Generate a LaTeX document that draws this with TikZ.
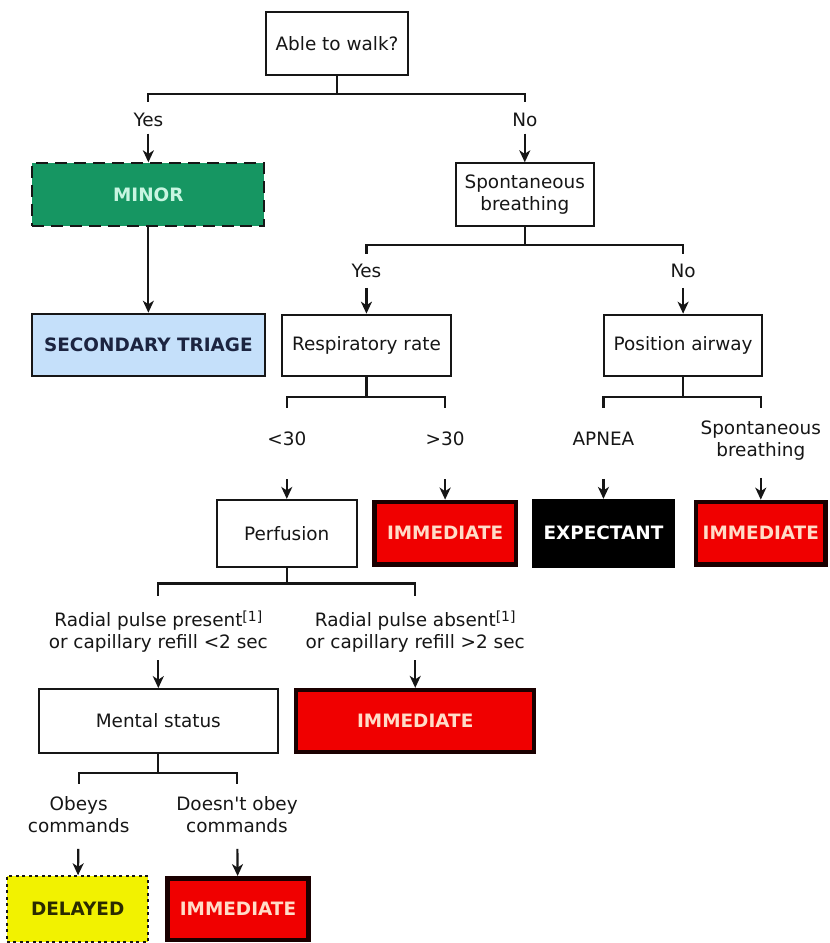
\documentclass[tikz,border=0pt]{standalone}
\usepackage{fontspec}
\setmainfont{DejaVu Sans}
\usetikzlibrary{arrows.meta}
\definecolor{ink}{HTML}{161616}
\definecolor{minorgreen}{HTML}{169662}
\definecolor{minortext}{HTML}{C8F5E1}
\definecolor{triageblue}{HTML}{C5E0FA}
\definecolor{triageink}{HTML}{1C2440}
\definecolor{immred}{HTML}{F00000}
\definecolor{immrim}{HTML}{1A0000}
\definecolor{immtext}{HTML}{FFDCC8}
\definecolor{delayyellow}{HTML}{F2F200}
\definecolor{delayink}{HTML}{2B2B00}
\newcommand{\note}[1]{\raisebox{5pt}{\fontsize{14}{14}\selectfont[#1]}}

\begin{document}
\begin{tikzpicture}[x=1pt,y=-1pt,
  every node/.style={font=\fontsize{18.5}{22}\selectfont, text=ink},
  box/.style={draw=ink, line width=2pt, fill=white, inner sep=0pt, align=center},
  tag/.style={box, font=\fontsize{18.5}{22}\selectfont\bfseries},
  immbox/.style={tag, fill=immred, draw=immrim, line width=4.5pt, text=immtext},
  lbl/.style={inner sep=0pt, align=center},
  link/.style={line width=2.2pt, draw=ink},
  arr/.style={link, -{Stealth[length=12pt,width=11pt,inset=3.5pt]}}]
\fill[white] (0,0) rectangle (833,943);

% first question
\node[box, minimum width=143pt, minimum height=63pt] (walk) at (338.5,43.5) {Able to walk?};
\node[lbl] (yes1) at (149,120) {Yes};
\node[lbl] (no1) at (527,120) {No};
\node[tag, fill=minorgreen, text=minortext, dash pattern=on 12pt off 7pt,
  minimum width=233pt, minimum height=63pt] (minor) at (149,195.5) {MINOR};
\node[tag, fill=triageblue, text=triageink, minimum width=234pt, minimum height=63pt] (second) at (149,346.5) {SECONDARY TRIAGE};
\node[box, minimum width=139pt, minimum height=63pt] (spont) at (527,195.5) {Spontaneous\\breathing};

% breathing
\node[lbl] (yes2) at (368,272) {Yes};
\node[lbl] (no2) at (686,272) {No};
\node[box, minimum width=169pt, minimum height=62pt] (resp) at (368,347) {Respiratory rate};
\node[box, minimum width=158pt, minimum height=62pt] (airway) at (686,347) {Position airway};
\node[lbl] (lt30) at (288,441) {<30};
\node[lbl] (gt30) at (447,441) {>30};
\node[lbl] (apnea) at (606,441) {APNEA};
\node[lbl] (sbreath) at (764,442) {Spontaneous\\breathing};
\node[box, minimum width=141pt, minimum height=67pt] (perf) at (288,535.5) {Perfusion};
\node[immbox, minimum width=142pt, minimum height=63pt] (imm1) at (447,535.5) {IMMEDIATE};
\node[tag, fill=black, text=white, draw=black, minimum width=142pt, minimum height=67pt] (expect) at (606,535.5) {EXPECTANT};
\node[immbox, minimum width=130pt, minimum height=63pt] (imm2) at (764,535.5) {IMMEDIATE};

% perfusion and mental status
\node[lbl] (present) at (159,634) {Radial pulse present\note{1}\\or capillary refill <2 sec};
\node[lbl] (absent) at (417,634) {Radial pulse absent\note{1}\\or capillary refill >2 sec};
\node[box, minimum width=240pt, minimum height=64pt] (mental) at (159,724) {Mental status};
\node[immbox, minimum width=239pt, minimum height=62pt] (imm3) at (417,724) {IMMEDIATE};
\node[lbl] (obeys) at (79,818) {Obeys\\commands};
\node[lbl] (disobey) at (238,818) {Doesn\textquotesingle t obey\\commands};
\node[tag, fill=delayyellow, text=delayink, dash pattern=on 3pt off 3.5pt,
  minimum width=142pt, minimum height=66pt] (delayed) at (78,913) {DELAYED};
\node[immbox, minimum width=142pt, minimum height=62pt] (imm4) at (239,913) {IMMEDIATE};

% branches
\draw[link, shorten >=10pt] (walk.south) -- ++(0,18) -| (yes1.north);
\draw[link, shorten >=10pt] (walk.south) -- ++(0,18) -| (no1.north);
\draw[link, shorten >=10pt] (spont.south) -- ++(0,18) -| (yes2.north);
\draw[link, shorten >=10pt] (spont.south) -- ++(0,18) -| (no2.north);
\draw[link, shorten >=24pt] (resp.south) -- ++(0,20) -| (lt30.north);
\draw[link, shorten >=24pt] (resp.south) -- ++(0,20) -| (gt30.north);
\draw[link, shorten >=24pt] (airway.south) -- ++(0,20) -| (apnea.north);
\draw[link, shorten >=12pt] (airway.south) -- ++(0,20) -| (sbreath.north);
\draw[link, shorten >=15pt] (perf.south) -- ++(0,16) -| (present.north);
\draw[link, shorten >=15pt] (perf.south) -- ++(0,16) -| (absent.north);
\draw[link, shorten >=12pt] (mental.south) -- ++(0,19) -| (obeys.north);
\draw[link, shorten >=12pt] (mental.south) -- ++(0,19) -| (disobey.north);

% arrows
\draw[arr] (minor) -- (second);
\foreach \a/\b in {yes1/minor, no1/spont}
  \draw[arr, shorten <=7pt] (\a) -- (\b);
\foreach \a/\b in {yes2/resp, no2/airway}
  \draw[arr, shorten <=10pt] (\a) -- (\b);
\foreach \a/\b in {lt30/perf, gt30/imm1, apnea/expect}
  \draw[arr, shorten <=33pt] (\a) -- (\b);
\draw[arr, shorten <=18pt] (sbreath) -- (imm2);
\foreach \a/\b in {present/mental, absent/imm3}
  \draw[arr, shorten <=8pt] (\a) -- (\b);
\foreach \a/\b in {obeys/delayed, disobey/imm4}
  \draw[arr, shorten <=16pt] (\a) -- (\b);
\end{tikzpicture}
\end{document}
